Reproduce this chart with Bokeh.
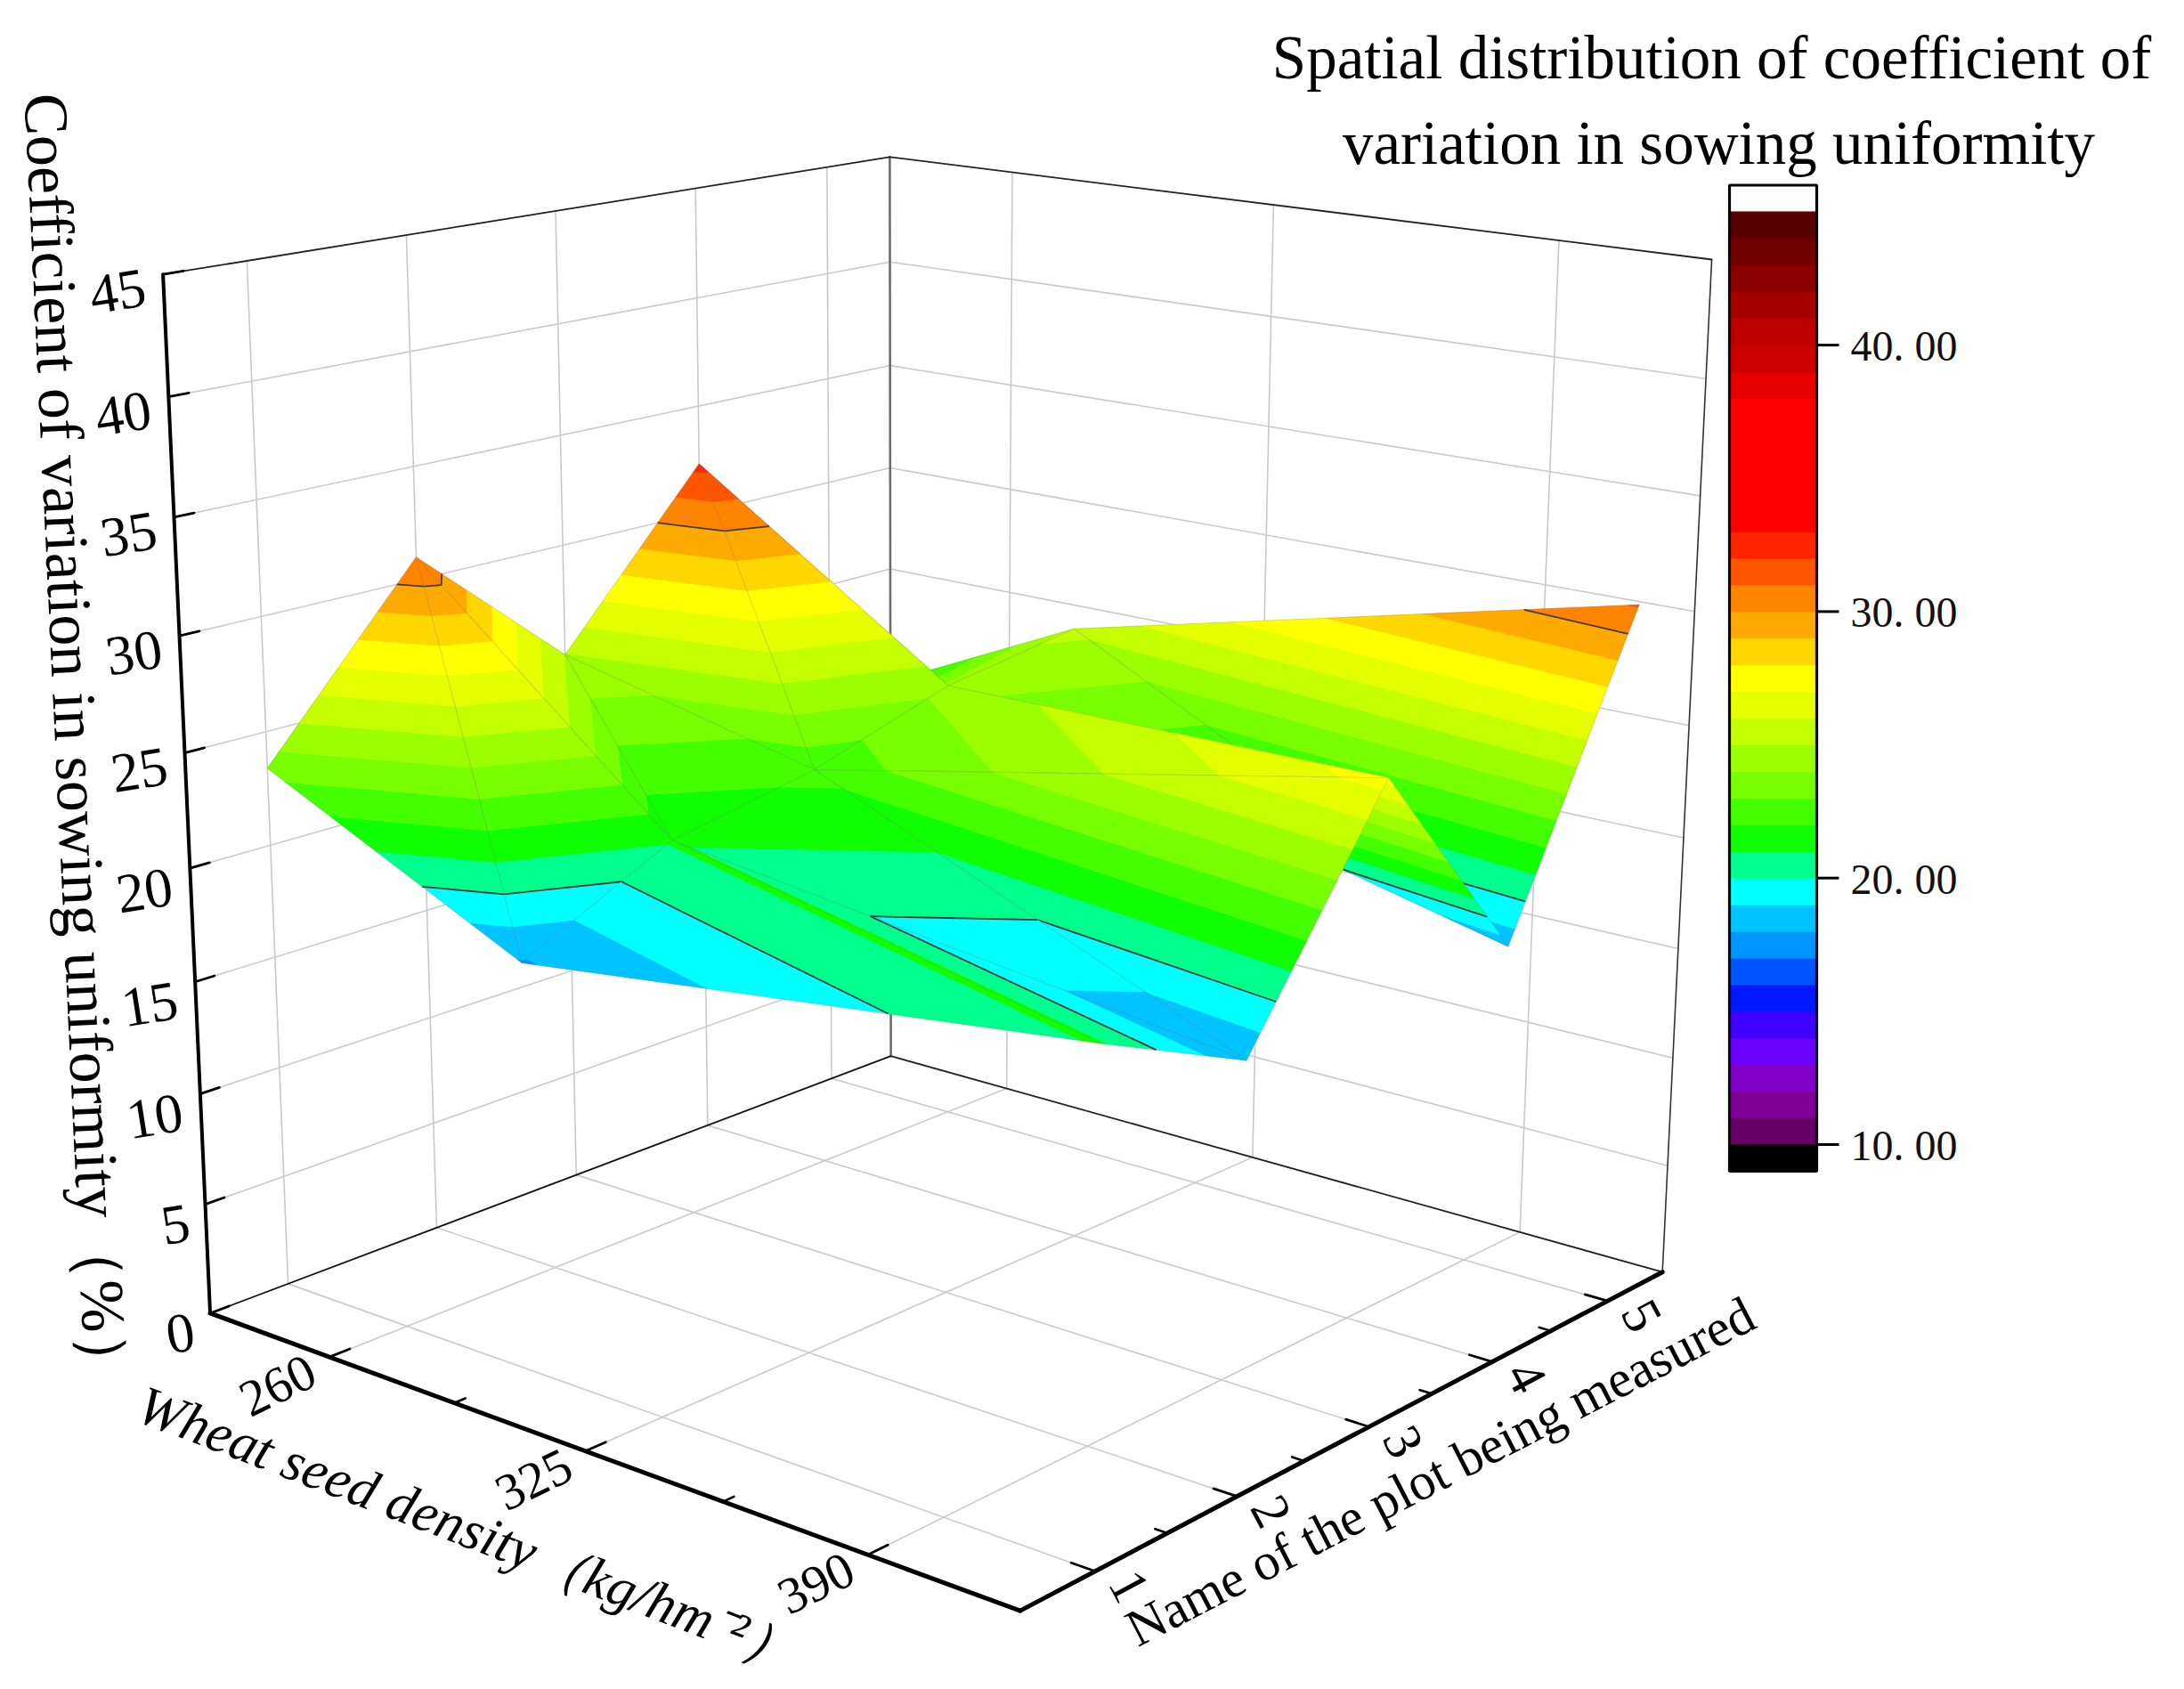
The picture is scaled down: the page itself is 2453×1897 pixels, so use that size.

import numpy as np
from bokeh.plotting import figure
from bokeh.embed import file_html
from bokeh.resources import INLINE
from bokeh.core.properties import value

# ---- data ----
plot_numbers = [1, 2, 3, 4, 5]
density_rows = [227.5, 292.5, 422.5]
cv_row_a = [23.4, 31.0, 24.95, 32.3, 19.35]
cv_row_b = [17.9, 21.1, 22.3, 24.3, 25.25]
cv_row_c = [21.1, 18.1, 27.4, 18.35, 31.1]
density_ticks = [260, 325, 390]
density_minor = [292.5, 357.5]
plot_ticks = [1, 2, 3, 4, 5]
plot_minor = [1.5, 2.5, 3.5, 4.5]
cv_ticks = [0, 5, 10, 15, 20, 25, 30, 35, 40, 45]
colorbar_ticks = [10, 20, 30, 40]
colorbar_labels = ["10. 00", "20. 00", "30. 00", "40. 00"]
title_lines = ["Spatial distribution of coefficient of", "variation in sowing uniformity"]
x_title = "Wheat seed density（kg/hm⁻²）"
y_title = "Name of the plot being measured"
z_title = "Coefficient of variation in sowing uniformity（%）"
level_start = 10
level_colors = ["#660066", "#7f0099", "#8000c8", "#6a00ff", "#4000ff", "#0019ff", "#0055ff", "#0095ff",
                "#00c4ff", "#00ffff", "#00ff8c", "#10ff00", "#44ff00", "#77ff00", "#9cff00", "#c4ff00",
                "#e4ff00", "#ffff00", "#ffd700", "#ffaa00", "#ff8400", "#ff5500", "#ff2600", "#ff0000",
                "#ff0000", "#ff0000", "#ff0000", "#ff0000", "#e60000", "#cc0000", "#bf0000", "#a60000",
                "#8c0000", "#730000", "#590000"]
contour_levels = [20, 30]

d_lo, d_hi = 227.5, 422.5
p_lo, p_hi = 0.5, 5.5
z_hi = 45.0

# ---- page ----
W, H = 2437, 1889
p = figure(width=W, height=H, x_range=(0, W), y_range=(H, 0), toolbar_location=None,
           output_backend="svg", min_border=0, background_fill_color="white")
p.axis.visible = False
p.grid.visible = False
p.outline_line_color = None

# ---- 3D camera fitted to the frame of the box (corners weigh more) ----
corners = [((0, 0, 0), (232, 1476)), ((0, 0, 1), (182, 308)), ((1, 0, 0), (1143, 1812)), ((1, 1, 0), (1867.5, 1428.5)),
           ((0, 1, 0), (1000, 1185)), ((0, 1, 1), (999.3, 176.7)), ((1, 1, 1), (1922, 290))]
others = [((0, 0, 40 / 45), (190, 445)), ((0, 0, 35 / 45), (195, 579)), ((0, 0, 15 / 45), (218, 1101.7)),
          ((0, 0, 10 / 45), (224, 1227.7)), ((0, 0, 5 / 45), (230, 1351.7)),
          ((1 / 6, 0, 0), (380, 1522)), ((.5, 0, 0), (667, 1623.5)), ((5 / 6, 0, 0), (985.6, 1734)),
          ((1, .1, 0), (1226, 1765)), ((1, .3, 0), (1387, 1681)), ((1, .5, 0), (1536, 1601)),
          ((1, .7, 0), (1674, 1530)), ((1, .9, 0), (1803, 1462))]
A, b = [], []
for (u, v, w), (x, y) in corners * 4 + others:
    A.append([u, v, w, 1, 0, 0, 0, 0, -x * u, -x * v, -x * w]); b.append(x)
    A.append([0, 0, 0, 0, u, v, w, 1, -y * u, -y * v, -y * w]); b.append(y)
P = np.append(np.linalg.lstsq(np.array(A, float), np.array(b, float), rcond=None)[0], 1).reshape(3, 4)


def uvw(d, pl, z):
    return (d - d_lo) / (d_hi - d_lo), (pl - p_lo) / (p_hi - p_lo), z / z_hi


def proj(d, pl, z):
    h = P @ np.array([*uvw(d, pl, z), 1.0])
    return h[0] / h[2], h[1] / h[2]


def seg(a, c, color, width, alpha=1.0):
    x0, y0 = proj(*a)
    x1, y1 = proj(*c)
    p.line([x0, x1], [y0, y1], line_color=color, line_width=width, line_alpha=alpha, line_cap="round")


GRID = "#c9c9c9"
grid_w = 1.6
for pl in plot_ticks:
    seg((d_lo, pl, 0), (d_lo, pl, z_hi), GRID, grid_w)
    seg((d_lo, pl, 0), (d_hi, pl, 0), GRID, grid_w)
for d in density_ticks:
    seg((d, p_hi, 0), (d, p_hi, z_hi), GRID, grid_w)
    seg((d, p_lo, 0), (d, p_hi, 0), GRID, grid_w)
for z in cv_ticks[1:-1]:
    seg((d_lo, p_lo, z), (d_lo, p_hi, z), GRID, grid_w)
    seg((d_lo, p_hi, z), (d_hi, p_hi, z), GRID, grid_w)

# back frame
seg((d_lo, p_hi, 0), (d_lo, p_hi, z_hi), "#6e6e6e", 2.6)
seg((d_hi, p_hi, 0), (d_hi, p_hi, z_hi), "#333333", 1.6)
seg((d_lo, p_lo, z_hi), (d_lo, p_hi, z_hi), "#222222", 1.8)
seg((d_lo, p_hi, z_hi), (d_hi, p_hi, z_hi), "#222222", 1.8)
seg((d_lo, p_lo, 0), (d_lo, p_hi, 0), "#111111", 1.8)
seg((d_lo, p_hi, 0), (d_hi, p_hi, 0), "#222222", 1.8)


# ---- surface ----
def clip(poly, lo, hi):
    def one(pts, keep, cross):
        out = []
        for i in range(len(pts)):
            a, c = pts[i], pts[(i + 1) % len(pts)]
            ka, kc = keep(a), keep(c)
            if ka:
                out.append(a)
            if ka != kc:
                t = (cross - a[2]) / (c[2] - a[2])
                out.append(tuple(a[k] + t * (c[k] - a[k]) for k in range(3)))
        return out
    pts = one(poly, lambda q: q[2] >= lo, lo)
    if pts:
        pts = one(pts, lambda q: q[2] <= hi, hi)
    return pts


rows = [cv_row_a, cv_row_b, cv_row_c]
vert = [[(density_rows[i], plot_numbers[j], rows[i][j]) for j in range(5)] for i in range(3)]
tris = []
# far to near: low density first, high plot number first
for i in range(2):
    for j in range(3, -1, -1):
        tris.append([vert[i][j + 1], vert[i + 1][j + 1], vert[i + 1][j]])
        tris.append([vert[i][j], vert[i][j + 1], vert[i + 1][j]])

for t in tris:
    xs, ys, cols = [], [], []
    for k, col in enumerate(level_colors):
        poly = clip(t, level_start + k, level_start + k + 1)
        if len(poly) >= 3:
            pr = [proj(*q) for q in poly]
            xs.append([q[0] for q in pr]); ys.append([q[1] for q in pr]); cols.append(col)
    p.patches(xs, ys, fill_color=cols, line_color=cols, line_width=0.7)
    tx = [proj(*q) for q in t] + [proj(*t[0])]
    p.line([q[0] for q in tx], [q[1] for q in tx], line_color="#707070", line_alpha=0.2, line_width=1.1)
    for L in contour_levels:
        cross = []
        for a, c in ((t[0], t[1]), (t[1], t[2]), (t[2], t[0])):
            if (a[2] - L) * (c[2] - L) < 0:
                r = (L - a[2]) / (c[2] - a[2])
                cross.append(proj(*(a[m] + r * (c[m] - a[m]) for m in range(3))))
        if len(cross) == 2:
            p.line([cross[0][0], cross[1][0]], [cross[0][1], cross[1][1]], line_color="#3c3c3c", line_width=1.8)

# ---- front axes, ticks ----
seg((d_lo, p_lo, 0), (d_lo, p_lo, z_hi), "#000000", 4)
seg((d_lo, p_lo, 0), (d_hi, p_lo, 0), "#000000", 5)
seg((d_hi, p_lo, 0), (d_hi, p_hi, 0), "#000000", 5)

for z in cv_ticks:
    seg((d_lo, p_lo, z), (d_lo, p_lo + 0.12, z), "#000000", 2.8)
for d in density_ticks:
    seg((d, p_lo, 0), (d, p_lo + 0.13, 0), "#000000", 2.8)
for d in density_minor:
    seg((d, p_lo, 0), (d, p_lo + 0.07, 0), "#000000", 2.6)
for pl in plot_ticks:
    seg((d_hi, pl, 0), (d_hi - 5, pl, 0), "#000000", 2.8)
for pl in plot_minor:
    seg((d_hi, pl, 0), (d_hi - 2.6, pl, 0), "#000000", 2.6)

SERIF = value("Liberation Serif")

# z tick labels
zx, zy = [], []
for z in cv_ticks:
    x, y = proj(d_lo, p_lo, z)
    zx.append(x - (20 if z >= 10 else 18)); zy.append(y + (14 if z > 20 else 20))
p.text(zx, zy, text=[str(z) for z in cv_ticks], text_font=SERIF, text_font_size="63px", text_align="right",
       text_baseline="middle", angle=np.radians(9), text_color="#000000")

# density labels
dx, dy = [], []
for d in density_ticks:
    x, y = proj(d, p_lo, 0)
    dx.append(x - 58); dy.append(y + 32)
p.text(dx, dy, text=[str(d) for d in density_ticks], text_font=SERIF, text_font_size="58px", text_align="center",
       text_baseline="middle", angle=np.radians(26), text_color="#000000")

# plot labels
px, py = [], []
for pl in plot_ticks:
    x, y = proj(d_hi, pl, 0)
    px.append(x + 38); py.append(y + 17)
p.text(px, py, text=[str(k) for k in plot_ticks], text_font=SERIF, text_font_size="60px", text_align="center",
       text_baseline="middle", angle=np.radians(-62), text_color="#000000")

# axis titles
p.text([85], [835], text=[z_title], text_font=SERIF, text_font_size="70px", text_align="center",
       text_baseline="middle", angle=np.radians(-87.3), text_color="#000000")
p.text([526], [1716], text=[x_title], text_font=SERIF, text_font_size="62px", text_font_style="italic",
       text_align="center", text_baseline="middle", angle=np.radians(-21), text_color="#000000")
p.text([1617], [1652], text=[y_title], text_font=SERIF, text_font_size="59px", text_align="center",
       text_baseline="middle", angle=np.radians(27.3), text_color="#000000")

# title
p.text([1922, 1930], [64, 160], text=title_lines, text_font=SERIF, text_font_size="69px", text_align="center",
       text_baseline="alphabetic", text_color="#000000")

# ---- colour bar ----
bar_left, bar_right = 1942, 2040


def bar_y(z):
    return 985.7 - (z - 20) * 29.93


p.quad(left=bar_left, right=bar_right, top=[bar_y(level_start + k + 1) for k in range(len(level_colors))],
       bottom=[bar_y(level_start + k) for k in range(len(level_colors))], fill_color=level_colors,
       line_color=level_colors, line_width=1)
p.quad(left=[bar_left], right=[bar_right], top=[bar_y(level_start)], bottom=[bar_y(level_start - 1)],
       fill_color="#000000", line_color="#000000")
p.quad(left=[bar_left], right=[bar_right], top=[bar_y(46)], bottom=[bar_y(9)], fill_color=None,
       line_color="#000000", line_width=3.2)
for z in colorbar_ticks:
    p.line([bar_right, 2065], [bar_y(z), bar_y(z)], line_color="#000000", line_width=3)
p.text([2078] * 4, [bar_y(z) + 1 for z in colorbar_ticks], text=colorbar_labels, text_font=SERIF,
       text_font_size="48px", text_align="left", text_baseline="middle", text_color="#111111")

open("out.html", "w").write(file_html(p, INLINE))
